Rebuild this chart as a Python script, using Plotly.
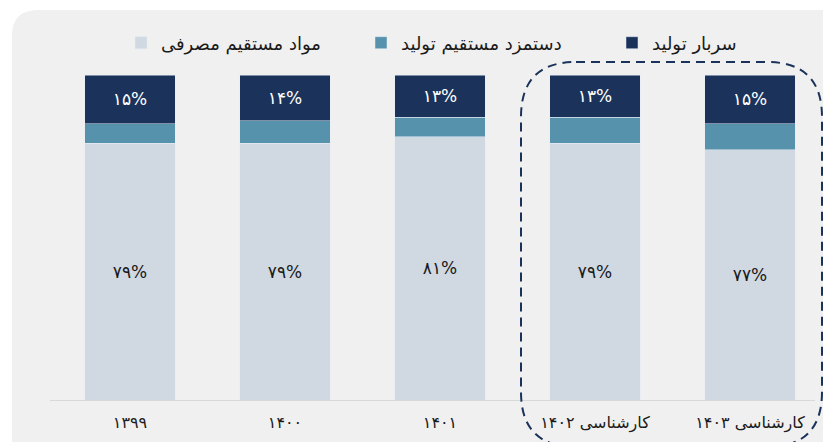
import plotly.graph_objects as go

categories = ["۱۳۹۹", "۱۴۰۰", "۱۴۰۱", "کارشناسی ۱۴۰۲", "کارشناسی ۱۴۰۳"]
series_names = ["مواد مستقیم مصرفی", "دستمزد مستقیم تولید", "سربار تولید"]
materials = [79, 79, 81, 79, 77]
labor = [6, 7, 6, 8, 8]
overhead = [15, 14, 13, 13, 15]

colors = ["#d0d8e2", "#5792ad", "#1b335b"]

FA = str.maketrans("0123456789", "۰۱۲۳۴۵۶۷۸۹")


def fa_pct(v):
    return str(v).translate(FA) + "%"


W, H = 823, 442
L, R, T, B = 50, 8, 75, 42
PW, PH = W - L - R, H - T - B


def px(x):
    return (x - L) / PW


def py(y):
    return (H - B - y) / PH


FONT = "DejaVu Sans"
xs = list(range(len(categories)))

fig = go.Figure()
fig.add_trace(go.Bar(
    x=xs, y=materials, name=series_names[0], marker_color=colors[0],
    text=[fa_pct(v) for v in materials], textposition="inside",
    insidetextanchor="middle", textangle=0, legend="legend",
    textfont=dict(color="#1a1a1a", size=17, family=FONT), width=0.587,
))
fig.add_trace(go.Bar(
    x=xs, y=labor, name=series_names[1], marker_color=colors[1], width=0.587,
    legend="legend2",
))
fig.add_trace(go.Bar(
    x=xs, y=overhead, name=series_names[2], marker_color=colors[2],
    text=[fa_pct(v) for v in overhead], textposition="inside",
    insidetextanchor="middle", textangle=0, legend="legend3",
    textfont=dict(color="white", size=17, family=FONT), width=0.587,
))


def rrect(x0, y0, x1, y1, r):
    pts = [
        f"M{px(x0 + r)},{py(y0)}",
        f"L{px(x1 - r)},{py(y0)}",
        f"Q{px(x1)},{py(y0)} {px(x1)},{py(y0 + r)}",
        f"L{px(x1)},{py(y1 - r)}",
        f"Q{px(x1)},{py(y1)} {px(x1 - r)},{py(y1)}",
        f"L{px(x0 + r)},{py(y1)}",
        f"Q{px(x0)},{py(y1)} {px(x0)},{py(y1 - r)}",
        f"L{px(x0)},{py(y0 + r)}",
        f"Q{px(x0)},{py(y0)} {px(x0 + r)},{py(y0)}",
        "Z",
    ]
    return " ".join(pts)


fig.add_shape(type="path", xref="paper", yref="paper",
              path=rrect(12, 10, 860, 480, 26),
              fillcolor="#f0f0f0", line=dict(width=0), layer="below")
fig.add_shape(type="path", xref="paper", yref="paper",
              path=rrect(521, 62, 822, 447, 55),
              fillcolor="rgba(0,0,0,0)",
              line=dict(color="#1b335b", width=2, dash="9px,6px"), layer="above")


def leg(xpix):
    return dict(orientation="h", x=px(xpix), y=py(43), xanchor="left", yanchor="middle",
                bgcolor="rgba(0,0,0,0)", itemwidth=30,
                font=dict(size=18, family=FONT, color="#1a1a1a"))


x_per = 155
fig.update_layout(
    width=W, height=H,
    margin=dict(l=L, r=R, t=T, b=B),
    barmode="stack",
    paper_bgcolor="white",
    plot_bgcolor="rgba(0,0,0,0)",
    font=dict(family=FONT, size=14, color="#1a1a1a"),
    showlegend=True,
    legend=leg(121),
    legend2=leg(361),
    legend3=leg(612),
    xaxis=dict(
        tickmode="array", tickvals=xs, ticktext=categories,
        range=[-(130 - L) / x_per, (W - R - 130) / x_per],
        showgrid=False, zeroline=False,
        showline=True, linecolor="#d9d9d9", linewidth=1,
        ticks="outside", ticklen=8, tickcolor="rgba(0,0,0,0)",
        tickfont=dict(size=16, family=FONT, color="#1a1a1a"),
        fixedrange=True,
    ),
    yaxis=dict(range=[0, 100], visible=False, fixedrange=True),
    uniformtext=dict(minsize=17, mode="show"),
)

fig.write_html("out.html")
